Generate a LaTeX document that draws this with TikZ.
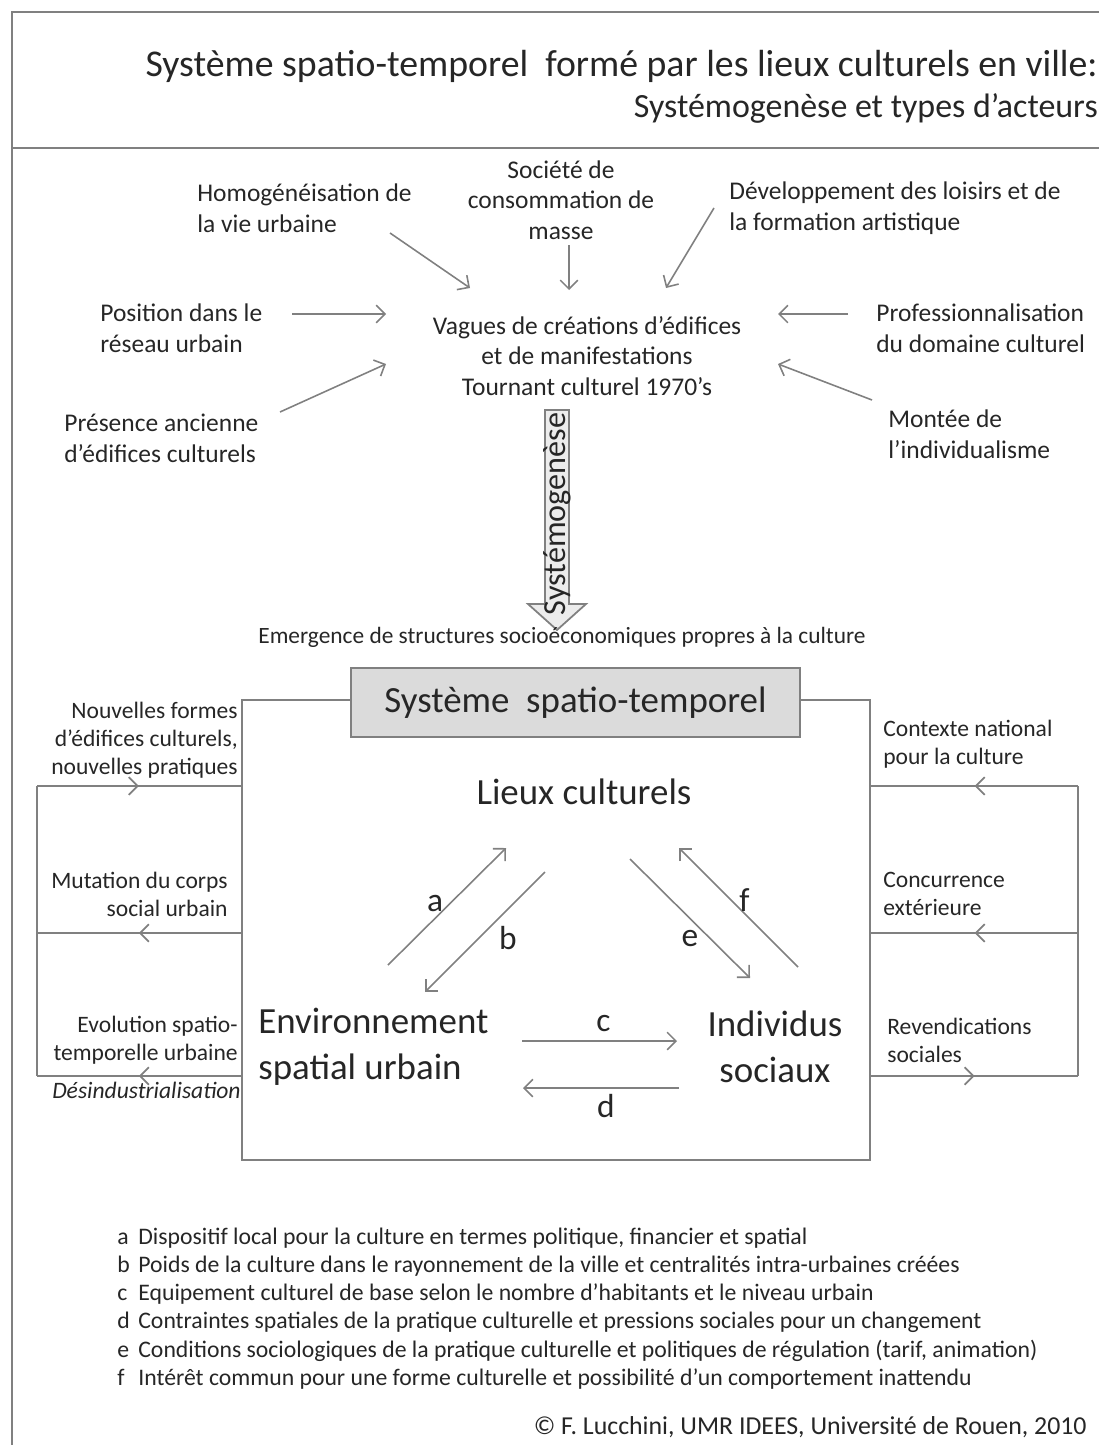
\documentclass[tikz,border=0pt]{standalone}
\usepackage{fontspec}
\setmainfont{Carlito}
\usetikzlibrary{arrows.meta}
\usetikzlibrary{decorations.markings}

\begin{document}
\begin{tikzpicture}[x=0.2mm,y=-0.2mm]
  \tikzset{txt/.style = {inner sep=0pt, text=black!85, font=\fontsize{14.5}{17.5}\selectfont}}
  \tikzset{side/.style = {inner sep=0pt, text=black!85, font=\fontsize{13.4}{16}\selectfont}}
  \tikzset{big/.style = {inner sep=0pt, text=black!85, font=\fontsize{21}{26}\selectfont}}
  \tikzset{lbl/.style = {inner sep=0pt, text=black!85, font=\fontsize{19}{19}\selectfont}}
  \tikzset{leg/.style = {inner sep=0pt, text=black!85, text height=1.6ex, text depth=0.4ex, font=\fontsize{13.5}{16}\selectfont}}
  \tikzset{frame/.style = {draw=gray, line width=1.6pt}}
  \tikzset{loopline/.style = {draw=gray, line width=1pt}}
  \tikzset{arr/.style = {draw=gray, line width=0.9pt, -tipA}}
  \tikzset{%
  tipA/.tip={Straight Barb[length=5pt,width=10pt]},
  }
  \tikzset{midtip/.style = {postaction={decorate}, decoration={markings, mark=at position 0.5 with {\arrow{tipA}}}}}

  \useasboundingbox (0,0) rectangle (1099,1445);

  % cadre
  \draw[frame] (1099,12) -- (12,12) -- (12,1445);
  \draw[frame] (12,148) -- (1099,148);

  \node[big, anchor=east, font=\fontsize{21.5}{26}\selectfont] (TL1) at (1098,66) {Système spatio-temporel \ formé par les lieux culturels en ville:};
  \node[big, anchor=east, font=\fontsize{19.3}{26}\selectfont] (TL2) at (1098,108) {Systémogenèse et types d’acteurs};

  % facteurs
  \node[txt, anchor=west, align=left] (HVU) at (197,208) {Homogénéisation de\\la vie urbaine};
  \node[txt, align=center] (SCM) at (561,200) {Société de\\consommation de\\masse};
  \node[txt, anchor=west, align=left] (DLF) at (729,208) {Développement des loisirs et de\\la formation artistique};
  \node[txt, anchor=west, align=left] (PRU) at (100,328) {Position dans le\\réseau urbain};
  \node[txt, align=center] (VCE) at (587,356) {Vagues de créations d’édifices\\et de manifestations\\Tournant culturel 1970’s};
  \node[txt, anchor=west, align=left] (PDC) at (876,328) {Professionnalisation\\du domaine culturel};
  \node[txt, anchor=west, align=left] (PAE) at (64,438) {Présence ancienne\\d’édifices culturels};
  \node[txt, anchor=west, align=left] (MDI) at (888,434) {Montée de\\l’individualisme};

  \draw[arr] ([shift={(193,25)}]HVU.west) -- ([shift={(-117,-68)}]VCE.center);
  \draw[arr] ([shift={(8,45)}]SCM.center) -- ([shift={(-18,-66)}]VCE.center);
  \draw[arr] ([shift={(-15,0)}]DLF.west) -- ([shift={(79,-68)}]VCE.center);
  \draw[arr] ([shift={(192,-14)}]PRU.west) -- ([shift={(-201,-42)}]VCE.center);
  \draw[arr] ([shift={(216,-26)}]PAE.west) -- ([shift={(-201,8)}]VCE.center);
  \draw[arr] ([shift={(-28,-14)}]PDC.west) -- ([shift={(191,-42)}]VCE.center);
  \draw[arr] ([shift={(-16,-34)}]MDI.west) -- ([shift={(191,8)}]VCE.center);

  % systemogenese
  \draw[draw=gray, fill=gray!15, line width=1pt] (545,410) -- (569,410) -- (569,604) -- (586,604) -- (557,630) -- (528,604) -- (545,604) -- cycle;
  \node[inner sep=0pt, text=black!85, font=\fontsize{18.3}{18.3}\selectfont, rotate=90] (SYG) at (557,514) {Systémogenèse};
  \node[side, font=\fontsize{13.3}{16}\selectfont] (EMS) at (562,637) {Emergence de structures socioéconomiques propres à la culture};

  % systeme
  \node[frame, minimum width=125.6mm, minimum height=92mm, inner sep=0pt] (BOX) at (556,930) {};
  \node[big, draw=gray, line width=1.2pt, fill=gray!28, minimum width=89.8mm, minimum height=13.8mm] (SST) at (575.5,702.5) {Système \ spatio-temporel};

  \node[big] (LCU) at (584,792) {Lieux culturels};
  \node[big, anchor=west, align=left] (ESU) at (258,1047) {Environnement\\spatial urbain};
  \node[big, align=center] (ISO) at (775,1047) {Individus\\sociaux};

  \draw[arr] ([shift={(130,-82)}]ESU.west) -- node[lbl, shift={(-12,-3)}] {a} ([shift={(-78,56)}]LCU.center);
  \draw[arr] ([shift={(-39,80)}]LCU.center) -- node[lbl, shift={(23,6)}] {b} ([shift={(167,-55)}]ESU.west);
  \draw[arr] ([shift={(264,-6)}]ESU.west) -- node[lbl, shift={(4,-17)}] {c} ([shift={(-98,-6)}]ISO.center);
  \draw[arr] ([shift={(-96,41)}]ISO.center) -- node[lbl, shift={(5,18)}] {d} ([shift={(265,41)}]ESU.west);
  \draw[arr] ([shift={(46,67)}]LCU.center) -- node[lbl, shift={(0,20)}] {e} ([shift={(-25,-69)}]ISO.center);
  \draw[arr] ([shift={(23,-80)}]ISO.center) -- node[lbl, shift={(6,-7)}] {f} ([shift={(95,56)}]LCU.center);

  % boucles
  \coordinate (L1) at (37,786);
  \coordinate (L2) at (37,933);
  \coordinate (L3) at (37,1076);
  \coordinate (R1) at (1078,786);
  \coordinate (R2) at (1078,933);
  \coordinate (R3) at (1078,1076);

  \draw[loopline, midtip] (L1) -- (L1 -| BOX.west);
  \draw[loopline, midtip] (L2 -| BOX.west) -- (L2);
  \draw[loopline, midtip] (L3 -| BOX.west) -- (L3);
  \draw[loopline] (L1) -- (L3);
  \draw[loopline, midtip] (R1) -- (R1 -| BOX.east);
  \draw[loopline, midtip] (R2) -- (R2 -| BOX.east);
  \draw[loopline, midtip] (R3 -| BOX.east) -- (R3);
  \draw[loopline] (R1) -- (R3);

  \node[side, anchor=east, align=right] (NFE) at (238,740) {Nouvelles formes\\d’édifices culturels,\\nouvelles pratiques};
  \node[side, anchor=east, align=right] (MCS) at (228,894) {Mutation du corps\\social urbain};
  \node[side, anchor=east, align=right] (ESP) at (238,1040) {Evolution spatio-\\temporelle urbaine};
  \node[side, anchor=east, font=\fontsize{13.4}{16}\selectfont\itshape] (DES) at (241,1090) {Désindustrialisation};
  \node[side, anchor=west, align=left] (CNC) at (883,744) {Contexte national\\pour la culture};
  \node[side, anchor=west, align=left] (CEX) at (883,894) {Concurrence\\extérieure};
  \node[side, anchor=west, align=left] (RSO) at (887,1040) {Revendications\\sociales};

  % legende
  \foreach \l/\t [count=\i from 0] in {a/{Dispositif local pour la culture en termes politique, financier et spatial},
    b/{Poids de la culture dans le rayonnement de la ville et centralités intra-urbaines créées},
    c/{Equipement culturel de base selon le nombre d’habitants et le niveau urbain},
    d/{Contraintes spatiales de la pratique culturelle et pressions sociales pour un changement},
    e/{Conditions sociologiques de la pratique culturelle et politiques de régulation (tarif, animation)},
    f/{Intérêt commun pour une forme culturelle et possibilité d’un comportement inattendu}}
  {
    \node[leg, anchor=west] (K\l) at (117,1239+28.3*\i) {\l};
    \node[leg, anchor=west] (T\l) at (138,1239+28.3*\i) {\t};
  }

  \node[txt, anchor=east, font=\fontsize{14.7}{16}\selectfont] (CPR) at (1087,1427) {© F. Lucchini, UMR IDEES, Université de Rouen, 2010};

\end{tikzpicture}
\end{document}
